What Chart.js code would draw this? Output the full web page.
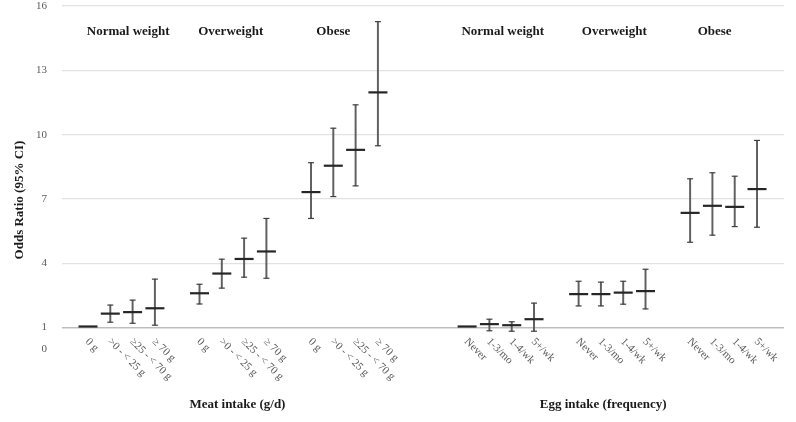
<!DOCTYPE html>
<html>
<head>
<meta charset="utf-8">
<script src="https://cdn.jsdelivr.net/npm/chart.js@4.4.1/dist/chart.umd.min.js"></script>
<style>
  html, body { margin: 0; padding: 0; background: #fff; }
  #wrap { width: 796px; height: 422px; position: relative; }
</style>
</head>
<body>
<div id="wrap"><canvas id="orChart"></canvas></div>
<script>
const weightGroups = ["Normal weight", "Overweight", "Obese"];
const meatLabels = ["0 g", "˃0 - < 25 g", "≥25 - < 70 g", "≥ 70 g"];
const eggLabels = ["Never", "1-3/mo", "1-4/wk", "5+/wk"];
const yTicks = [0, 1, 4, 7, 10, 13, 16];

// odds ratios, 4 per weight group (normal, overweight, obese)
const meatOR   = [1.05, 1.65, 1.72, 1.90,  2.60, 3.52, 4.20, 4.55,  7.32, 8.55, 9.29, 11.97];
const meatLow  = [null, 1.25, 1.20, 1.11,  2.10, 2.84, 3.35, 3.30,  6.09, 7.11, 7.61, 9.48];
const meatHigh = [null, 2.05, 2.28, 3.26,  3.02, 4.19, 5.17, 6.09,  8.69, 10.30, 11.39, 15.27];

const eggOR   = [1.05, 1.16, 1.11, 1.39,  2.56, 2.56, 2.63, 2.70,  6.35, 6.68, 6.63, 7.46];
const eggLow  = [null, 0.85, 0.83, 0.83,  2.01, 2.01, 2.09, 1.87,  4.98, 5.31, 5.71, 5.68];
const eggHigh = [null, 1.39, 1.27, 2.14,  3.16, 3.12, 3.16, 3.72,  7.94, 8.22, 8.06, 9.73];

// layout: slot index along the hidden x axis
const PANEL_GAP = 17;
const GROUP_GAP = 5;
function slot(panel, k) {
  return panel * PANEL_GAP + Math.floor(k / 4) * GROUP_GAP + (k % 4);
}
const groupLabelX = [[1.8, 6.4, 11.0], [18.6, 23.6, 28.1]];
const panelTitleX = [6.7, 23.1];

const panels = [
  { title: "Meat intake (g/d)", labels: meatLabels, or: meatOR, low: meatLow, high: meatHigh },
  { title: "Egg intake (frequency)", labels: eggLabels, or: eggOR, low: eggLow, high: eggHigh }
];

const orPoints = [];
const capPoints = [];
const ciBars = [];
panels.forEach((p, pi) => {
  p.or.forEach((v, k) => {
    const x = slot(pi, k);
    orPoints.push({ x, y: v });
    if (p.low[k] != null) {
      capPoints.push({ x, y: p.low[k] }, { x, y: p.high[k] });
      ciBars.push({ x, y: [p.low[k], p.high[k]] });
    }
  });
});

const serif = "'Liberation Serif', 'Times New Roman', serif";

const annotate = {
  id: "annotate",
  afterDraw(chart) {
    const { ctx, scales: { x } } = chart;
    ctx.save();

    // weight-group headers
    ctx.font = "bold 13px " + serif;
    ctx.fillStyle = "#1a1a1a";
    ctx.textAlign = "center";
    ctx.textBaseline = "middle";
    panels.forEach((p, pi) => {
      weightGroups.forEach((g, gi) => {
        ctx.fillText(g, x.getPixelForValue(groupLabelX[pi][gi]), 32);
      });
    });

    // panel titles under the axis
    panels.forEach((p, pi) => {
      ctx.fillText(p.title, x.getPixelForValue(panelTitleX[pi]), 405);
    });

    // y axis title
    ctx.save();
    ctx.translate(20, 200);
    ctx.rotate(-Math.PI / 2);
    ctx.fillText("Odds Ratio (95% CI)", 0, 0);
    ctx.restore();

    // slanted category labels
    ctx.font = "11px " + serif;
    ctx.fillStyle = "#595959";
    ctx.textAlign = "left";
    panels.forEach((p, pi) => {
      for (let k = 0; k < 12; k++) {
        const px = x.getPixelForValue(slot(pi, k));
        ctx.save();
        ctx.translate(px - 1, 340);
        ctx.rotate(Math.PI / 4);
        ctx.fillText(p.labels[k % 4], 0, 0);
        ctx.restore();
      }
    });

    ctx.restore();
  }
};

new Chart(document.getElementById("orChart"), {
  type: "scatter",
  data: {
    datasets: [
      {
        label: "OR",
        data: orPoints,
        pointStyle: "line",
        pointRadius: 9.5,
        pointHoverRadius: 9.5,
        borderColor: "#262626",
        borderWidth: 2.2,
        order: 0
      },
      {
        label: "CI caps",
        data: capPoints,
        pointStyle: "line",
        pointRadius: 3,
        pointHoverRadius: 3,
        borderColor: "#404040",
        borderWidth: 1.2,
        order: 1
      },
      {
        type: "bar",
        label: "95% CI",
        data: ciBars,
        backgroundColor: "#5f5f5f",
        borderWidth: 0,
        barThickness: 1.3,
        order: 2
      }
    ]
  },
  options: {
    responsive: true,
    maintainAspectRatio: false,
    animation: false,
    layout: { autoPadding: false, padding: { top: 6, right: 12, bottom: 73, left: 0 } },
    plugins: {
      legend: { display: false },
      tooltip: { enabled: false }
    },
    scales: {
      x: {
        type: "linear",
        display: false,
        offset: false,
        min: -1.166,
        max: 31.21
      },
      y: {
        min: 0,
        max: 16,
        afterBuildTicks: scale => {
          scale.ticks = yTicks.map(v => ({ value: v }));
        },
        afterFit: scale => {
          // fixed axis width; tick padding should not push the plot down
          scale.width = 62;
          scale.paddingTop = 6;
          scale.paddingBottom = 6;
        },
        border: { display: false },
        grid: {
          drawTicks: false,
          color: c => c.tick.value === 0 ? "rgba(0,0,0,0)" : (c.tick.value === 1 ? "#bdbdbd" : "#e2e2e2"),
          lineWidth: c => c.tick.value === 1 ? 1.6 : 1.2
        },
        ticks: {
          padding: 15,
          color: "#595959",
          font: { family: serif, size: 11 }
        }
      }
    }
  },
  plugins: [annotate]
});
</script>
</body>
</html>
